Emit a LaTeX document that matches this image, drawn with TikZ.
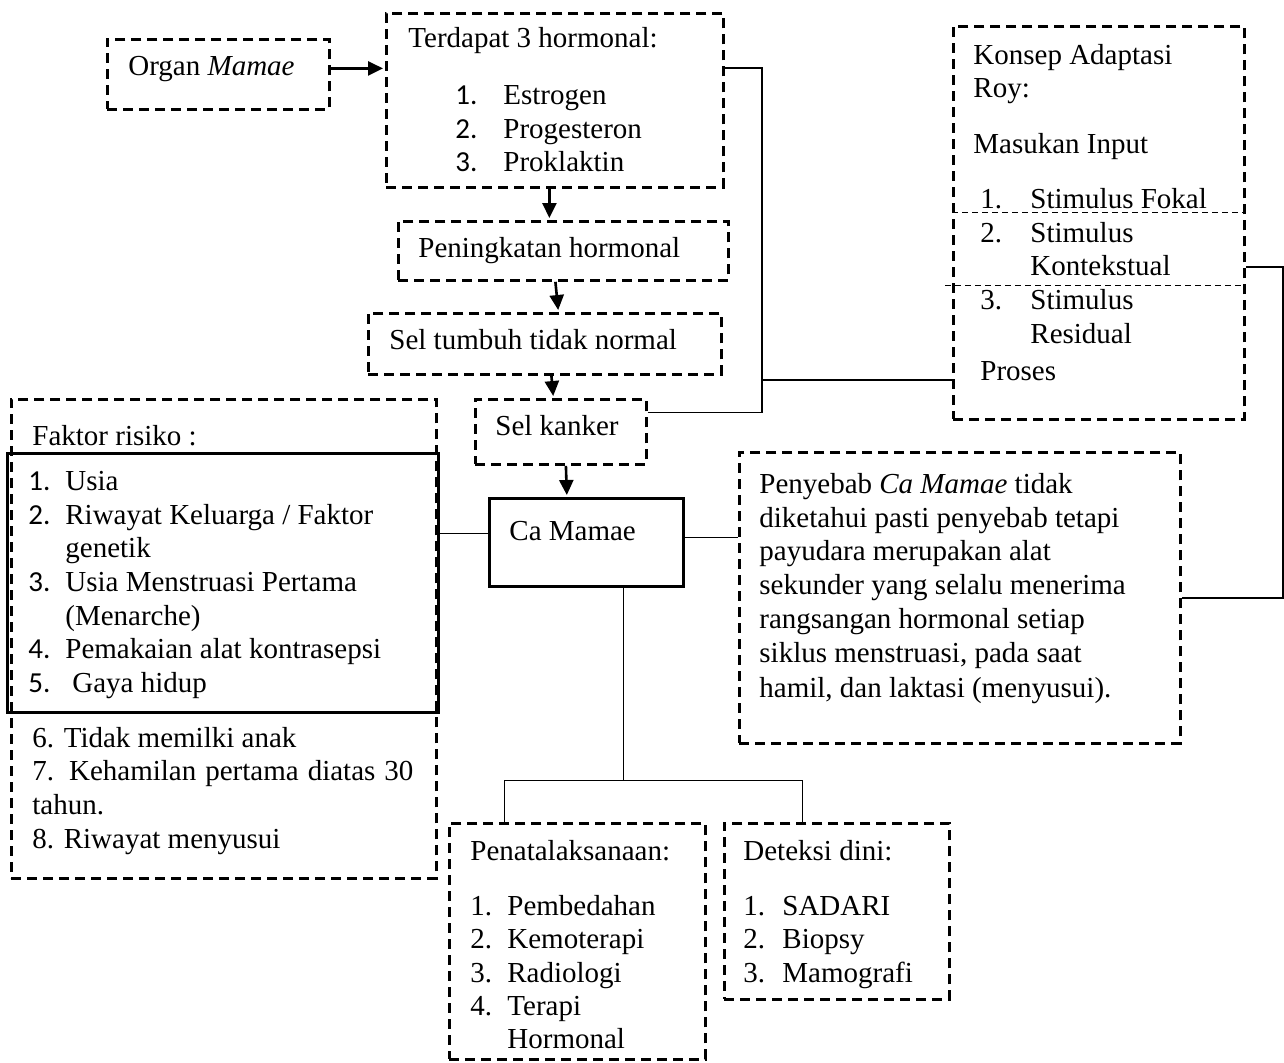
\documentclass[tikz,border=0pt]{standalone}
\usepackage{fontspec}
\setmainfont{Liberation Serif}
\newfontfamily\calnum{Carlito}
\usetikzlibrary{arrows.meta,positioning}

\tikzset{
  dbox/.style={draw, dash pattern=on 5pt off 3pt, line width=1.4pt,
    anchor=north west, inner sep=0pt},
  sbox/.style={draw, line width=1.3pt, anchor=north west, inner sep=0pt},
  txt/.style={anchor=base west, inner sep=0pt},
  link/.style={line width=0.65pt},
  flow/.style={line width=1.3pt, -{Triangle[length=7.5pt,width=7pt]}, shorten >=1pt},
  rule/.style={line width=0.5pt, dash pattern=on 3pt off 2pt},
}

\begin{document}
\begin{tikzpicture}[x=0.5pt,y=-0.5pt,
  every node/.style={font=\fontsize{14.5}{16.8}\selectfont}]
  \useasboundingbox (0,0) rectangle (1284,1062);

  % boxes
  \node[dbox, minimum width=111pt, minimum height=35pt] (organ) at (106,38) {};
  \node[dbox, minimum width=168.5pt, minimum height=87pt] (terdapat) at (385,12) {};
  \node[dbox, minimum width=165pt, minimum height=29.5pt] (naik) at (397,220) {};
  \node[dbox, minimum width=176.5pt, minimum height=30.5pt] (tumbuh) at (367,312) {};
  \node[dbox, minimum width=85.5pt, minimum height=32.5pt] (kanker) at (474,398) {};
  \node[sbox, minimum width=97pt, minimum height=44pt] (camamae) at (488,497) {};
  \node[dbox, minimum width=212.5pt, minimum height=239.5pt] (faktor) at (10,398) {};
  \node[sbox, minimum width=215.5pt, minimum height=129.5pt] (faktorA) at (6,452) {};
  \node[dbox, minimum width=220.5pt, minimum height=145.5pt] (penyebab) at (738,451) {};
  \node[dbox, minimum width=145.5pt, minimum height=196.5pt] (roy) at (952,25) {};
  \node[dbox, minimum width=128pt, minimum height=118pt] (penata) at (448,822) {};
  \node[dbox, minimum width=112.5pt, minimum height=88pt] (deteksi) at (723,822) {};

  % texts
  \node[txt] (torgan) at (128,75) {Organ \textit{Mamae}};
  \node[txt] (tterdapat) at (408,47) {Terdapat 3 hormonal:};
  \foreach \n/\t/\y in {1/Estrogen/104, 2/Progesteron/138, 3/Proklaktin/171}{
    \node[txt] (hn\n) at (455,\y) {\calnum \n.};
    \node[txt] (ht\n) at (503,\y) {\t};
  }
  \node[txt] (tnaik) at (418,257) {Peningkatan hormonal};
  \node[txt] (ttumbuh) at (389,349) {Sel tumbuh tidak normal};
  \node[txt] (tkanker) at (495,435) {Sel kanker};
  \node[txt] (tcamamae) at (509,540) {Ca Mamae};

  \node[txt] (tfaktor) at (32,445) {Faktor risiko :};
  \foreach \n/\y in {1/490, 2/524, 3/591, 4/658, 5/692}{
    \node[txt] (fn\n) at (28,\y) {\calnum \n.};
  }
  \foreach \t/\y [count=\i] in {Usia/490, {Riwayat Keluarga / Faktor}/524, genetik/557,
      Usia Menstruasi Pertama/591, (Menarche)/625, Pemakaian alat kontrasepsi/658}{
    \node[txt] (ft\i) at (65,\y) {\t};
  }
  \node[txt] (ft7) at (72,692) {Gaya hidup};
  \node[txt] (fs6) at (32,747) {6. Tidak memilki anak};
  \node[txt] (fs7) at (32,780) {\makebox[190.5pt][s]{7. Kehamilan pertama diatas 30}};
  \node[txt] (fs7b) at (32,814) {tahun.};
  \node[txt] (fs8) at (32,848) {8. Riwayat menyusui};

  \foreach \t/\y [count=\i] in {Penyebab \textit{Ca Mamae} tidak/493,
      diketahui pasti penyebab tetapi/527, payudara merupakan alat/560,
      sekunder yang selalu menerima/594, rangsangan hormonal setiap/628,
      {siklus menstruasi, pada saat}/662, {hamil, dan laktasi (menyusui).}/697}{
    \node[txt] (pl\i) at (759,\y) {\t};
  }

  \node[txt] (troy1) at (973,64) {Konsep Adaptasi};
  \node[txt] (troy2) at (973,97) {Roy:};
  \node[txt] (troy3) at (973,153) {Masukan Input};
  \foreach \n/\y in {1/208, 2/242, 3/309}{
    \node[txt] (rn\n) at (980,\y) {\n.};
  }
  \foreach \t/\y [count=\i] in {Stimulus Fokal/208, Stimulus/242, Kontekstual/275,
      Stimulus/309, Residual/343}{
    \node[txt] (rt\i) at (1030,\y) {\t};
  }
  \node[txt] (troy4) at (980,380) {Proses};
  \draw[rule] (952,212) -- (1245,212);
  \draw[rule] (945,285) -- (1245,285);

  \node[txt] (tpenata) at (470,860) {Penatalaksanaan:};
  \foreach \t/\y [count=\i] in {Pembedahan/915, Kemoterapi/948, Radiologi/982, Terapi/1015}{
    \node[txt] (an\i) at (470,\y) {\i.};
    \node[txt] (at\i) at (507,\y) {\t};
  }
  \node[txt] (at5) at (507,1048) {Hormonal};

  \node[txt] (tdeteksi) at (743,860) {Deteksi dini:};
  \foreach \t/\y [count=\i] in {SADARI/915, Biopsy/948, Mamografi/982}{
    \node[txt] (dn\i) at (743,\y) {\i.};
    \node[txt] (dt\i) at (782,\y) {\t};
  }

  % arrows
  \draw[flow] ([yshift=3pt]organ.east) -- ([yshift=3pt]organ.east -| terdapat.west);
  \draw[flow] ([xshift=-2.75pt]terdapat.south) -- ([xshift=-2.75pt]terdapat.south |- naik.north);
  \draw[flow] ([xshift=-4pt]naik.south) -- ([xshift=-2.5pt]naik.south |- tumbuh.north);
  \draw[flow] ([xshift=3.25pt]tumbuh.south) -- ([xshift=4.25pt]tumbuh.south |- kanker.north);
  \draw[flow] ([xshift=2.5pt]kanker.south) -- ([xshift=3pt]kanker.south |- camamae.north);

  % lines
  \coordinate (bus) at (762,413);
  \coordinate (busroy) at (762,380);
  \coordinate (rim) at (1283,267);
  \draw[link] ([yshift=-28pt]terdapat.north east) -| (bus);
  \draw[link] ([yshift=9.75pt]kanker.east) -- ([yshift=9.75pt]kanker.east -| bus);
  \draw[link] (busroy) -- (busroy -| roy.west);
  \draw[link] (roy.east |- rim) -- (rim) |- (penyebab.east);
  \draw[link] ([yshift=4.5pt]camamae.west) -- ([yshift=4.5pt]camamae.west -| faktorA.east);
  \draw[link] ([yshift=2.5pt]camamae.east) -- ([yshift=2.5pt]camamae.east -| penyebab.west);
  \draw[link] ([xshift=18.5pt]camamae.south) -- ++(0,193) coordinate (fork);
  \draw[link] ([xshift=-36.5pt]penata.north) |- (fork) -| ([xshift=-17.25pt]deteksi.north);
\end{tikzpicture}
\end{document}
